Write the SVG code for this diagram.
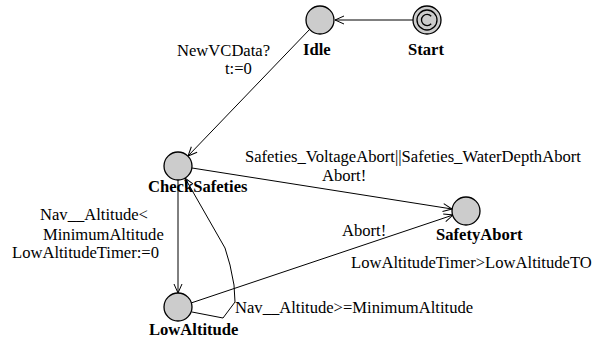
<svg xmlns="http://www.w3.org/2000/svg" width="603" height="341" viewBox="0 0 603 341">
  <style>
    .loc { fill: #cccccc; stroke: #000000; stroke-width: 1.3; }
    .ring { fill: none; stroke: #000000; stroke-width: 1.3; }
    .edge { fill: none; stroke: #000000; stroke-width: 1; marker-end: url(#arrow); }
    .name { font-family: "Liberation Serif", "Times New Roman", serif; font-size: 16.6px; font-weight: bold; fill: #000000; }
    .lbl { font-family: "Liberation Serif", "Times New Roman", serif; font-size: 16.6px; fill: #000000; }
  </style>
  <defs>
    <marker id="arrow" markerUnits="userSpaceOnUse" markerWidth="12" markerHeight="12" refX="10" refY="5" orient="auto" overflow="visible">
      <path d="M1,1 L10,5 L1,9" fill="none" stroke="#000000" stroke-width="1"/>
    </marker>
  </defs>
  <rect width="603" height="341" fill="#ffffff"/>

  <!-- transitions -->
  <g id="connectors">
    <line class="edge" x1="413" y1="20" x2="335" y2="20"/>
    <line class="edge" x1="310" y1="29" x2="188" y2="156"/>
    <line class="edge" x1="192" y1="168" x2="452" y2="209"/>
    <line class="edge" x1="178" y1="180" x2="178" y2="293"/>
    <line class="edge" x1="191" y1="303" x2="453" y2="215"/>
    <polyline class="edge" points="192,312 223,318 235,302 234,285 230,265 225,248 185,178"/>

    <text class="lbl" x="177" y="56">NewVCData?</text>
    <text class="lbl" x="225" y="74">t:=0</text>
    <text class="lbl" x="245" y="162">Safeties_VoltageAbort||Safeties_WaterDepthAbort</text>
    <text class="lbl" x="322" y="181">Abort!</text>
    <text class="lbl" x="40" y="220">Nav__Altitude&lt;</text>
    <text class="lbl" x="43" y="240">MinimumAltitude</text>
    <text class="lbl" x="12" y="258">LowAltitudeTimer:=0</text>
    <text class="lbl" x="342" y="236">Abort!</text>
    <text class="lbl" x="351" y="268">LowAltitudeTimer&gt;LowAltitudeTO</text>
    <text class="lbl" x="235" y="313">Nav__Altitude&gt;=MinimumAltitude</text>
  </g>

  <!-- locations -->
  <g id="Start">
    <circle class="loc" cx="427" cy="20" r="14"/>
    <circle class="ring" cx="427" cy="20" r="10"/>
    <path class="ring" d="M431.2,16.2 A5.6,5.6 0 1 0 431.2,23.8"/>
    <text class="name" x="408" y="55">Start</text>
  </g>
  <g id="Idle">
    <circle class="loc" cx="320" cy="20" r="14"/>
    <text class="name" x="303" y="55">Idle</text>
  </g>
  <g id="CheckSafeties">
    <circle class="loc" cx="178" cy="166" r="14"/>
    <text class="name" x="148" y="192">CheckSafeties</text>
  </g>
  <g id="SafetyAbort">
    <circle class="loc" cx="466" cy="211" r="14"/>
    <text class="name" x="436" y="240">SafetyAbort</text>
  </g>
  <g id="LowAltitude">
    <circle class="loc" cx="178" cy="307" r="14"/>
    <text class="name" x="149" y="335">LowAltitude</text>
  </g>
</svg>
